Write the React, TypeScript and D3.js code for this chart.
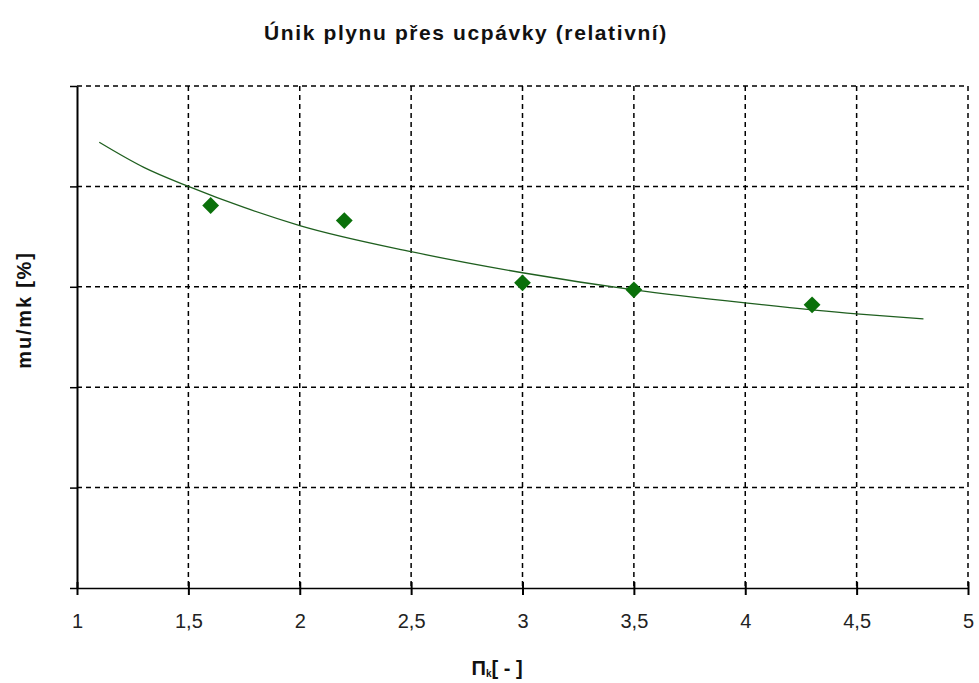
import React, { useEffect, useRef } from 'react';
import * as d3 from 'd3';

// measured points (diamonds)
const pointX = [1.6, 2.2, 3.0, 3.5, 4.3];
const pointY = [3.81, 3.66, 3.04, 2.97, 2.82];

// trendline
const trendX = [1.1, 1.3, 1.5, 1.75, 2.0, 2.5, 3.0, 3.5, 4.0, 4.5, 4.8];
const trendY = [4.44, 4.19, 4.0, 3.79, 3.61, 3.35, 3.14, 2.97, 2.84, 2.73, 2.68];

const xTicks = [1, 1.5, 2, 2.5, 3, 3.5, 4, 4.5, 5];
const yTicks = [0, 1, 2, 3, 4, 5];

const W = 979;
const H = 683;
const margin = { top: 86, right: 11, bottom: 95, left: 77 };
const FONT = '"Liberation Sans", Arial, sans-serif';

const App: React.FC = () => {
  const svgRef = useRef<SVGSVGElement>(null);

  useEffect(() => {
    const svg = d3.select(svgRef.current);
    svg.selectAll('*').remove();

    const innerW = W - margin.left - margin.right;
    const innerH = H - margin.top - margin.bottom;

    const x = d3.scaleLinear().domain([1, 5]).range([0, innerW]);
    const y = d3.scaleLinear().domain([0, 5]).range([innerH, 0]);

    svg.append('rect').attr('width', W).attr('height', H).attr('fill', '#fff');

    const g = svg.append('g').attr('transform', `translate(${margin.left},${margin.top})`);

    // grid
    g.selectAll('.hgrid')
      .data(yTicks.filter(t => t > 0))
      .enter()
      .append('line')
      .attr('x1', 0)
      .attr('x2', innerW)
      .attr('y1', d => y(d))
      .attr('y2', d => y(d))
      .attr('stroke', '#000')
      .attr('stroke-width', 1.5)
      .attr('stroke-dasharray', '5,4');

    g.selectAll('.vgrid')
      .data(xTicks.filter(t => t > 1))
      .enter()
      .append('line')
      .attr('x1', d => x(d))
      .attr('x2', d => x(d))
      .attr('y1', 0)
      .attr('y2', innerH)
      .attr('stroke', '#000')
      .attr('stroke-width', 1.5)
      .attr('stroke-dasharray', '5,4');

    // axes
    const xAxis = g.append('g')
      .attr('transform', `translate(0,${innerH})`)
      .call(
        d3.axisBottom(x)
          .tickValues(xTicks)
          .tickSizeInner(7)
          .tickSizeOuter(0)
          .tickPadding(19)
          .tickFormat(d => String(d).replace('.', ','))
      );
    xAxis.select('.domain').attr('stroke', '#000').attr('stroke-width', 1.5);
    xAxis.selectAll('.tick line').attr('stroke', '#000').attr('stroke-width', 2).attr('y1', -6);
    xAxis.selectAll('text')
      .style('font-family', FONT)
      .style('font-size', '20px')
      .attr('fill', '#222');

    const yAxis = g.append('g')
      .call(d3.axisLeft(y).tickValues(yTicks).tickSizeInner(7).tickSizeOuter(0).tickFormat(() => ''));
    yAxis.select('.domain').attr('stroke', '#000').attr('stroke-width', 2);
    yAxis.selectAll('.tick line').attr('stroke', '#000').attr('stroke-width', 1.5);

    // trendline
    const line = d3.line<number>()
      .x((_, i) => x(trendX[i]))
      .y(d => y(d))
      .curve(d3.curveMonotoneX);
    g.append('path')
      .attr('d', line(trendY))
      .attr('fill', 'none')
      .attr('stroke', '#1f5f1f')
      .attr('stroke-width', 1.3);

    // diamonds
    const sym = d3.symbol().type(d3.symbolDiamond2).size(180);
    g.selectAll('.pt')
      .data(pointY)
      .enter()
      .append('path')
      .attr('d', sym)
      .attr('transform', (d, i) => `translate(${x(pointX[i])},${y(d)})`)
      .attr('fill', '#0a700a');

    // title
    svg.append('text')
      .attr('x', 466)
      .attr('y', 40)
      .attr('text-anchor', 'middle')
      .style('font-family', FONT)
      .style('font-size', '21px')
      .style('font-weight', 'bold')
      .style('letter-spacing', '1.6px')
      .attr('fill', '#111')
      .text('Únik plynu přes ucpávky (relativní)');

    // y label
    svg.append('text')
      .attr('transform', `translate(31,${310}) rotate(-90)`)
      .attr('text-anchor', 'middle')
      .style('font-family', FONT)
      .style('font-size', '20px')
      .style('font-weight', 'bold')
      .style('letter-spacing', '1.8px')
      .attr('fill', '#111')
      .text('mu/mk [%]');

    // x label
    const xl = svg.append('text')
      .attr('x', 497)
      .attr('y', 675)
      .attr('text-anchor', 'middle')
      .style('font-family', FONT)
      .style('font-size', '20px')
      .style('font-weight', 'bold')
      .attr('fill', '#111');
    xl.append('tspan').text('Π');
    xl.append('tspan').attr('dy', 2).style('font-size', '10px').text('k');
    xl.append('tspan').attr('dy', -2).text('[ - ]');
  }, []);

  return (
    <svg
      ref={svgRef}
      width={W}
      height={H}
      style={{ position: 'absolute', left: 0, top: 0, display: 'block' }}
    />
  );
};

export default App;
